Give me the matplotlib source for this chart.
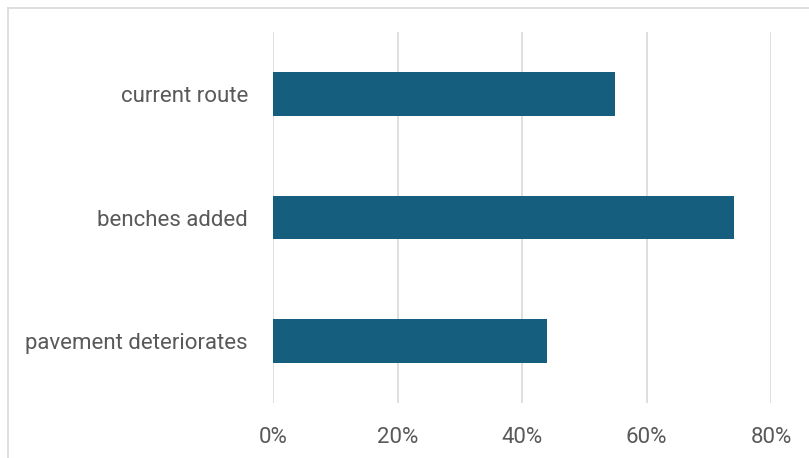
import matplotlib.pyplot as plt
from matplotlib.lines import Line2D
from matplotlib.ticker import PercentFormatter

categories = ['current route', 'benches added', 'pavement deteriorates']
values = [0.55, 0.74, 0.44]
xticks = [0, 0.2, 0.4, 0.6, 0.8]

plt.rcParams['font.family'] = ['Roboto', 'DejaVu Sans']

fig = plt.figure(figsize=(8.09, 4.58), dpi=100)
ax = fig.add_axes([273 / 809, 55 / 458, 498 / 809, 371 / 458])

# chart area border (only top and left are visible in the crop)
fig.add_artist(Line2D([8 / 809, 8 / 809], [0, 1 - 8 / 458], color='#D9D9D9', lw=1.2))
fig.add_artist(Line2D([8 / 809, 1], [1 - 8 / 458, 1 - 8 / 458], color='#D9D9D9', lw=1.2))

y = list(range(len(categories)))
ax.barh(y, values, height=0.355, color='#165E7E', zorder=3)
ax.set_ylim(len(categories) - 0.5, -0.5)
ax.set_yticks(y)
ax.set_yticklabels(categories)

ax.set_xlim(0, 0.8)
ax.set_xticks(xticks)
ax.xaxis.set_major_formatter(PercentFormatter(1.0, decimals=0))
ax.grid(axis='x', color='#D9D9D9', lw=1.2, zorder=0)
ax.set_axisbelow(True)

for s in ax.spines.values():
    s.set_visible(False)
ax.tick_params(length=0, labelsize=16, labelcolor='#595959')
ax.tick_params(axis='y', pad=18)
ax.tick_params(axis='x', pad=17)

fig.savefig('out.png', dpi=100)
